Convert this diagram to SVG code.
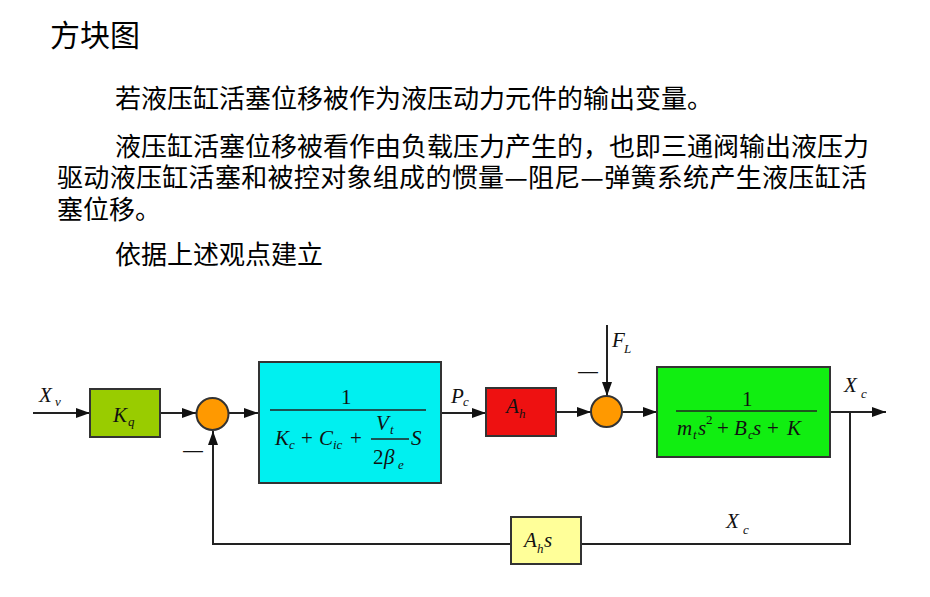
<svg xmlns="http://www.w3.org/2000/svg" width="930" height="597" viewBox="0 0 930 597">
<style>
.cjk{font-family:"Noto Sans CJK SC","Noto Sans",sans-serif;fill:#000}
.t{font-size:26px}
.m{font-family:"Liberation Serif",serif;font-style:italic;font-size:21px;fill:#111}
.r{font-family:"Liberation Serif",serif;font-size:21px;fill:#111}
.s{font-family:"Liberation Serif",serif;font-style:italic;font-size:13px;fill:#111}
.sup{font-family:"Liberation Serif",serif;font-size:13px;fill:#111}
.box{stroke:#333;stroke-width:2}
.ln{stroke:#222;stroke-width:2;fill:none}
.fr{stroke:#222;stroke-width:1.3}
.sum{fill:#ff9900;stroke:#333;stroke-width:2}
.minus{font-family:"Liberation Sans",sans-serif;font-size:20px;fill:#111}
</style>
<defs>
<marker id="ah" viewBox="0 0 14 10" refX="14" refY="5" markerWidth="14" markerHeight="10" markerUnits="userSpaceOnUse" orient="auto">
<path d="M0,0 L14,5 L0,10 z" fill="#111"/>
</marker>
</defs>
<rect width="930" height="597" fill="#fff"/>
<g id="text">
<text class="cjk" x="50" y="46" font-size="30">方块图</text>
<text class="cjk t" x="115" y="108">若液压缸活塞位移被作为液压动力元件的输出变量。</text>
<text class="cjk t" x="115" y="156">液压缸活塞位移被看作由负载压力产生的，也即三通阀输出液压力</text>
<text class="cjk t" x="57" y="187" textLength="810" lengthAdjust="spacing">驱动液压缸活塞和被控对象组成的惯量—阻尼—弹簧系统产生液压缸活</text>
<text class="cjk t" x="57" y="219">塞位移。</text>
<text class="cjk t" x="115" y="264">依据上述观点建立</text>
</g>
<g id="connectors">
<line class="ln" x1="33" y1="413" x2="90" y2="413" marker-end="url(#ah)"/>
<line class="ln" x1="160" y1="413" x2="196" y2="413" marker-end="url(#ah)"/>
<line class="ln" x1="229" y1="413" x2="258" y2="413" marker-end="url(#ah)"/>
<line class="ln" x1="441" y1="413" x2="486" y2="413" marker-end="url(#ah)"/>
<line class="ln" x1="556" y1="412" x2="591" y2="412" marker-end="url(#ah)"/>
<line class="ln" x1="622" y1="412" x2="657" y2="412" marker-end="url(#ah)"/>
<line class="ln" x1="607" y1="325" x2="607" y2="396" marker-end="url(#ah)"/>
<line class="ln" x1="830" y1="412" x2="886" y2="412" marker-end="url(#ah)"/>
<polyline class="ln" points="850,412 850,544 581,544"/>
<polyline class="ln" points="511,544 213,544 213,431" marker-end="url(#ah)"/>
</g>
<g id="Xv"><text class="m" x="39" y="402">X</text><text class="s" x="55" y="406">v</text></g>
<g id="Kq">
<rect class="box" x="90" y="389" width="70" height="48" fill="#99cc00"/>
<text class="m" x="113" y="422">K</text><text class="s" x="128" y="426">q</text>
</g>
<g id="sum1">
<circle class="sum" cx="212.5" cy="414" r="16"/>
<text class="minus" x="183" y="457">—</text>
</g>
<g id="cyl">
<rect class="box" x="259" y="362" width="182" height="121" fill="#00f0f0"/>
<text class="r" x="341" y="404">1</text>
<line class="fr" x1="270" y1="410" x2="426" y2="410"/>
<text class="m" x="275" y="445">K</text><text class="s" x="289" y="449">c</text>
<text class="r" x="301" y="445">+</text>
<text class="m" x="319" y="445">C</text><text class="s" x="333" y="449">ic</text>
<text class="r" x="350" y="445">+</text>
<text class="m" x="376" y="430">V</text><text class="s" x="390" y="434">t</text>
<line class="fr" x1="371" y1="439" x2="409" y2="439"/>
<text class="r" x="373" y="464">2</text><text class="m" x="384" y="464">β</text><text class="s" x="398" y="469">e</text>
<text class="m" x="411" y="445">S</text>
</g>
<g id="Pc"><text class="m" x="451" y="403">P</text><text class="s" x="463" y="406">c</text></g>
<g id="Ah">
<rect class="box" x="486" y="388" width="70" height="48" fill="#ee1111"/>
<text class="m" x="506" y="413">A</text><text class="s" x="519" y="418">h</text>
</g>
<g id="FL"><text class="m" x="612" y="347">F</text><text class="s" x="624" y="353">L</text></g>
<g id="sum2">
<circle class="sum" cx="606.5" cy="411.5" r="15.5"/>
<text class="minus" x="578" y="378">—</text>
</g>
<g id="load">
<rect class="box" x="657" y="367" width="173" height="90" fill="#11ee11"/>
<text class="r" x="742" y="406">1</text>
<line class="fr" x1="676" y1="411" x2="817" y2="411"/>
<text class="m" x="677" y="435">m</text><text class="s" x="693" y="439">t</text>
<text class="m" x="698" y="435">s</text><text class="sup" x="706" y="424">2</text>
<text class="r" x="717" y="435">+</text>
<text class="m" x="734" y="435">B</text><text class="s" x="748" y="439">c</text>
<text class="m" x="753" y="435">s</text>
<text class="r" x="767" y="435">+</text>
<text class="m" x="787" y="435">K</text>
</g>
<g id="Xc"><text class="m" x="844" y="392">X</text><text class="s" x="861" y="398">c</text></g>
<g id="Xc2"><text class="m" x="726" y="528">X</text><text class="s" x="743" y="534">c</text></g>
<g id="Ahs">
<rect class="box" x="511" y="517" width="70" height="47" fill="#ffff99"/>
<text class="m" x="524" y="547">A</text><text class="s" x="537" y="553">h</text><text class="m" x="544" y="547">s</text>
</g>
</svg>
